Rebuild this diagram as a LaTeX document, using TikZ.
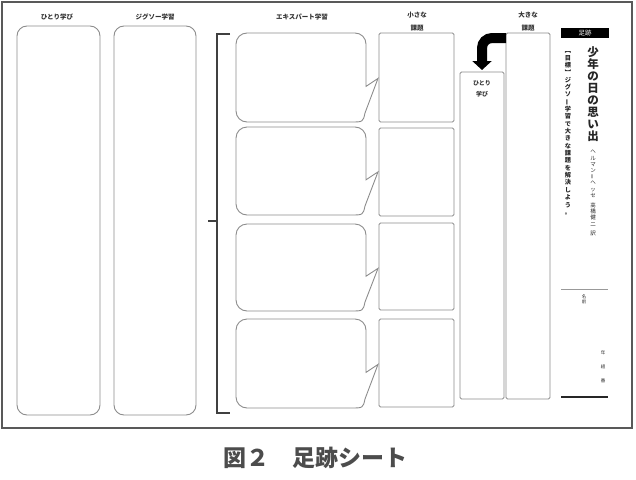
\documentclass[tikz,border=0pt]{standalone}
\usepackage{fontspec}
\usepackage{graphicx}
\newfontfamily\jp{Noto Sans CJK JP}
\usetikzlibrary{positioning, arrows.meta}

\begin{document}
\begin{tikzpicture}[
  x=1pt, y=-1pt,
  font=\jp,
  frame/.style={draw=black!65, line width=1.3pt},
  col/.style={
    draw=black!45, line width=0.9pt, rounded corners=10pt,
    anchor=north west, inner sep=0pt, outer sep=0pt
  },
  topic/.style={
    draw=black!45, line width=0.9pt, rounded corners=1.5pt,
    anchor=north west, inner sep=0pt, outer sep=0pt
  },
  bubble/.style={draw=black!45, line width=0.9pt},
  head/.style={font=\jp\bfseries\fontsize{6.5}{13}\selectfont, text=black!80, align=center},
  tate/.style={align=center, inner sep=0pt, text=black!85},
  bigarrow/.style={
    line width=10pt, rounded corners=10pt, shorten >=2pt,
    -{Triangle[width=19pt, length=9pt]}
  },
]
  \useasboundingbox (0,0) rectangle (636,479);

  % --- Outer frame ---
  \draw[frame] (2,2) rectangle (632,428);

  % --- Headings ---
  \node[head] (solohead) at (57,17) {ひとり学び};
  \node[head] (jigsawhead) at (155,17) {ジグソー学習};
  \node[head] (experthead) at (302,17) {エキスパート学習};
  \node[head] (smallhead) at (417,22) {小さな\\課題};
  \node[head] (bighead) at (528,22) {大きな\\課題};

  % --- Solo and jigsaw columns ---
  \node[col, minimum width=83pt, minimum height=389pt] (solo) at (17,26) {};
  \node[col, minimum width=82pt, minimum height=389pt] (jigsaw) at (114,26) {};

  % --- Bracket ---
  \draw[black!75, line width=1.4pt] (230,34) -- (217,34) -- (217,413) -- (230,413);
  \draw[black!75, line width=1.4pt] (208,221) -- (217,221);

  % --- Expert bubbles ---
  \foreach \ya/\yb in {33/122, 127/215, 224/311, 319/408} {
    \pgfmathsetmacro\yn{\ya+0.6*(\yb-\ya)}
    \pgfmathsetmacro\yp{\ya+0.51*(\yb-\ya)}
    \draw[bubble] (300,\ya) [rounded corners=11pt] -- (366,\ya) [sharp corners]
      -- (366,\yn) -- (378,\yp) -- (365,\yb-9) .. controls (363,\yb) .. (351,\yb)
      [rounded corners=11pt] -- (236,\yb) -- (236,\ya) -- cycle;
  }

  % --- Small topics ---
  \foreach \ya/\yb [count=\i] in {33/122, 128/216, 223/310, 319/407} {
    \node[topic, minimum width=75pt, minimum height={(\yb-\ya)*1pt}] (topic\i) at (379,\ya) {};
  }

  % --- Solo column and big topic ---
  \node[topic, minimum width=44pt, minimum height=327pt] (hitoricol) at (460,72) {};
  \node[head, anchor=north, font=\jp\bfseries\fontsize{6}{11}\selectfont] (hitorilbl)
    at ([yshift=-5pt]hitoricol.north) {ひとり\\学び};
  \node[topic, minimum width=44pt, minimum height=366pt] (bigcol) at (506,33) {};
  \draw[bigarrow] ([yshift=-5pt]bigcol.north west) -| (hitoricol.north);

  % --- Right panel ---
  \node[fill=black, text=white, anchor=north west, inner sep=0pt,
    minimum width=48pt, minimum height=10pt, font=\jp\fontsize{6.5}{7}\selectfont]
    (tag) at (561,28) {足跡};
  \node[tate, anchor=north, font=\jp\bfseries\fontsize{11.5}{12}\selectfont] (title) at (593,46)
    {少\\年\\の\\日\\の\\思\\い\\出};
  \node[tate, anchor=north, font=\jp\fontsize{5.5}{6.2}\selectfont] (author) at (593,150)
    {ヘ\\ル\\マ\\ン\\\rotatebox[origin=c]{90}{＝}\\ヘ\\ッ\\セ\\[4pt]高\\橋\\健\\二\\[3pt]訳};
  \node[tate, anchor=north, font=\jp\bfseries\fontsize{6.2}{7.35}\selectfont] (goal) at (568,47)
    {\rotatebox[origin=c]{-90}{【}\\目\\標\\\rotatebox[origin=c]{-90}{】}\\ジ\\グ\\ソ\\%
     \rotatebox[origin=c]{90}{ー}\\学\\習\\で\\大\\き\\な\\課\\題\\を\\解\\決\\し\\よ\\う\\。};

  \draw[black!40, line width=0.8pt] (561,289) -- (608,289);
  \node[tate, anchor=north, font=\jp\fontsize{4.5}{5}\selectfont] (namelbl) at (584,295) {名\\前};
  \node[tate, font=\jp\fontsize{4.5}{14}\selectfont] (classlbl) at (603,367) {年\\組\\番};
  \draw[black!85, line width=1.6pt] (561,397) -- (608,397);

  % --- Caption ---
  \node[font=\jp\bfseries\fontsize{23}{24}\selectfont, text=black!70] (caption) at (315,458) {図２　足跡シート};

\end{tikzpicture}
\end{document}
